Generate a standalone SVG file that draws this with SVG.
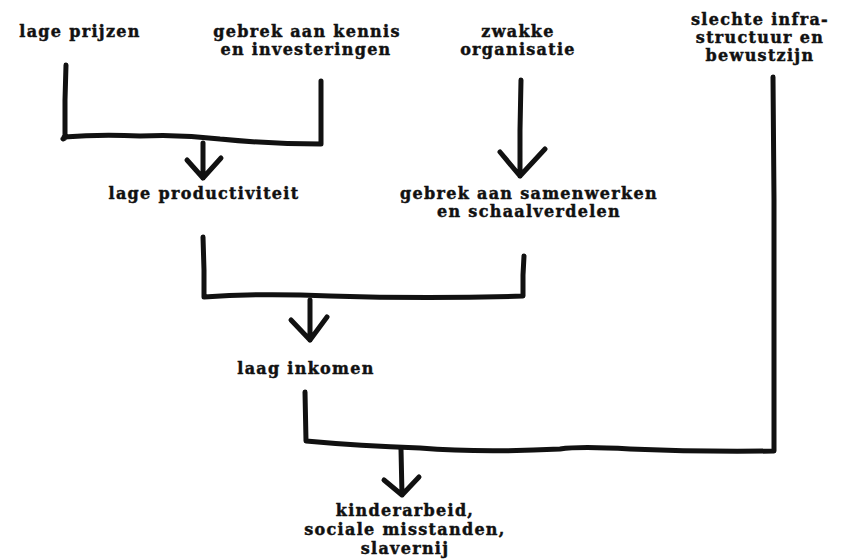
<svg xmlns="http://www.w3.org/2000/svg" width="846" height="559" viewBox="0 0 846 559">
<style>
text{font-family:"DejaVu Serif","Liberation Serif",serif;font-weight:bold;font-size:16px;letter-spacing:1.3px;fill:#111;stroke:#111;stroke-width:0.45;text-anchor:middle}
.ln{fill:none;stroke:#111;stroke-width:5;stroke-linecap:round;stroke-linejoin:round}
</style>
<rect width="846" height="559" fill="#fff"/>
<g id="n1"><text x="80" y="37">lage prijzen</text></g>
<g id="n2"><text x="307" y="37">gebrek aan kennis</text><text x="306" y="55">en investeringen</text></g>
<g id="n3"><text x="518" y="37">zwakke</text><text x="518" y="55">organisatie</text></g>
<g id="n4"><text x="760" y="25">slechte infra-</text><text x="760" y="43">structuur en</text><text x="760" y="61">bewustzijn</text></g>
<g id="n5"><text x="204" y="199">lage productiviteit</text></g>
<g id="n6"><text x="529" y="199">gebrek aan samenwerken</text><text x="529" y="217">en schaalverdelen</text></g>
<g id="n7"><text x="306" y="374">laag inkomen</text></g>
<g id="n8"><text x="405" y="516">kinderarbeid,</text><text x="405" y="535">sociale misstanden,</text><text x="405" y="554">slavernij</text></g>
<g id="connectors">
<path class="ln" d="M66 65 L65 100 L65 138 L63 139 M64 137 Q100 134 140 136 Q180 134 220 139 Q270 144 321 144 L321 110 L321 81"/>
<path class="ln" d="M203 143 L203 178 M187 160 L203 178 L221 158"/>
<path class="ln" d="M521 80 L520 130 L520 176 M500 152 L520 176 L545 149"/>
<path class="ln" d="M203 237 L204 270 L204 297 Q260 293 330 296 Q430 299 523 296 L523 275 L524 256"/>
<path class="ln" d="M310 300 L310 340 M291 320 L310 340 L327 317"/>
<path class="ln" d="M773 77 L774 200 L774 330 L774 451 Q700 452 630 449 Q580 446 560 449 Q480 453 420 448 Q360 446 306 441 L305 392"/>
<path class="ln" d="M401 449 L402 495 M384 480 L402 495 L419 477"/>
</g>
</svg>
